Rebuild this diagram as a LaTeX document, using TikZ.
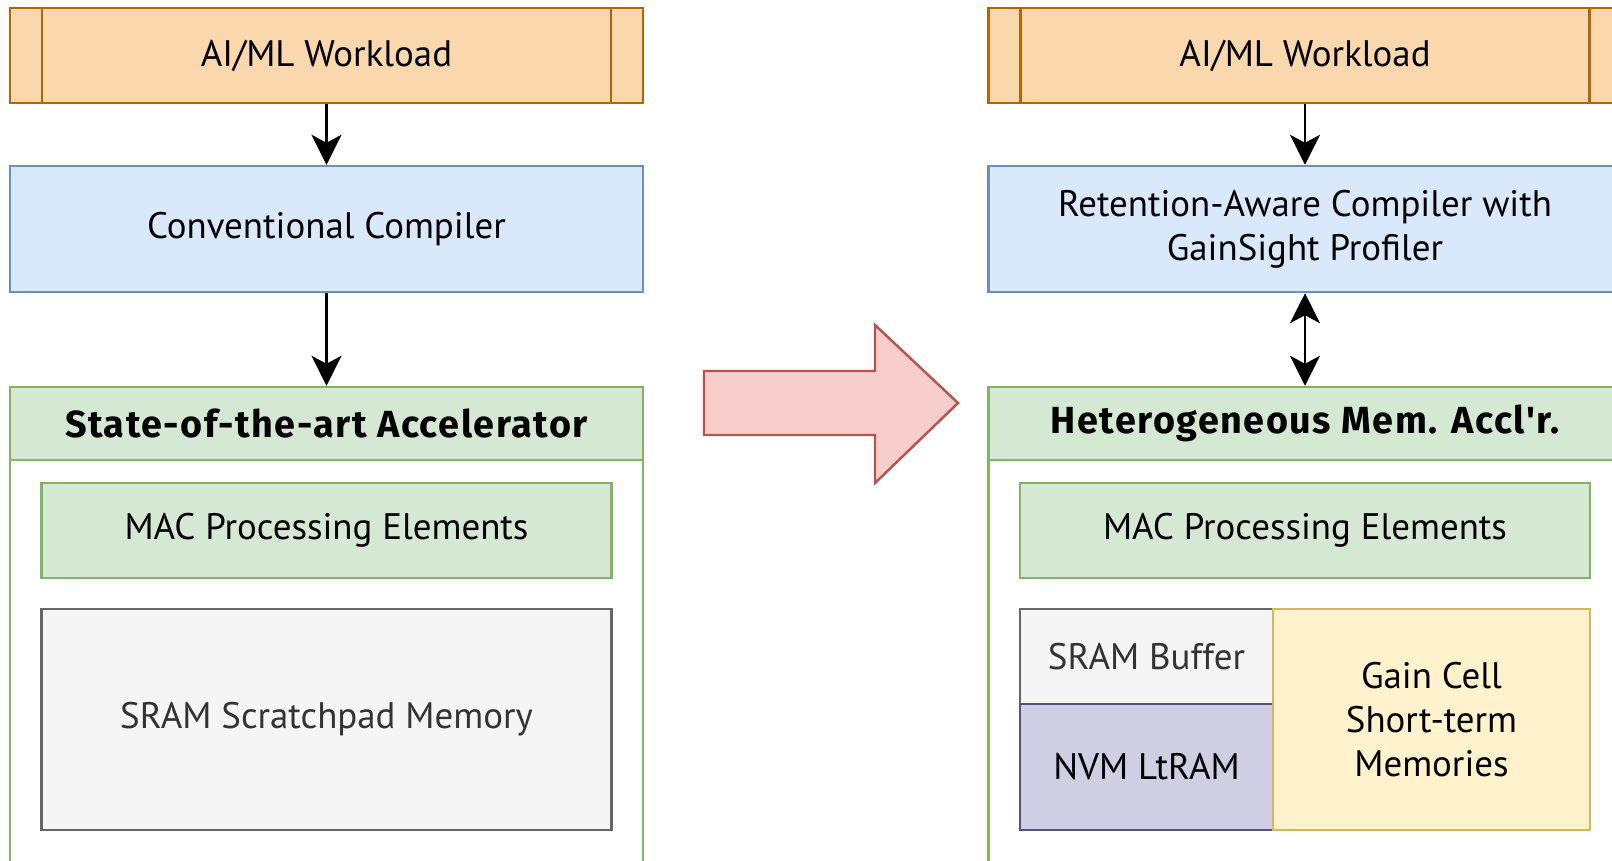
\documentclass[tikz,border=0pt]{standalone}
\usepackage{fontspec}
\setmainfont{PT Sans}
\newfontfamily\hdrfont{Fira Sans}[LetterSpace=4]
\usetikzlibrary{arrows.meta,positioning,calc}

\definecolor{wlfill}{HTML}{FAD7AC}
\definecolor{wlline}{HTML}{B46504}
\definecolor{ccfill}{HTML}{DAE8FC}
\definecolor{ccline}{HTML}{6C8EBF}
\definecolor{pefill}{HTML}{D5E8D4}
\definecolor{peline}{HTML}{82B366}
\definecolor{srfill}{HTML}{F5F5F5}
\definecolor{srline}{HTML}{666666}
\definecolor{srtext}{HTML}{333333}
\definecolor{nvfill}{HTML}{D0CEE2}
\definecolor{nvline}{HTML}{56517E}
\definecolor{gcfill}{HTML}{FFF2CC}
\definecolor{gcline}{HTML}{D6B656}
\definecolor{bigfill}{HTML}{F8CECC}
\definecolor{bigline}{HTML}{B85450}

\begin{document}
\begin{tikzpicture}[
  x=0.02cm, y=-0.02cm,
  font=\fontsize{21}{25}\selectfont,
  base/.style={draw, line width=1.4pt, align=center, inner sep=0pt},
  work/.style={base, draw=wlline, fill=wlfill, minimum width=12.66cm, minimum height=1.9cm},
  comp/.style={base, draw=ccline, fill=ccfill, minimum width=12.66cm, minimum height=2.52cm},
  accbox/.style={base, draw=peline, fill=white, minimum width=12.66cm, minimum height=9.5cm},
  hdr/.style={base, draw=peline, fill=pefill, minimum width=12.66cm, minimum height=1.46cm,
              font=\hdrfont\fontsize{21.5}{25}\selectfont\bfseries},
  pe/.style={base, draw=peline, fill=pefill, minimum width=11.4cm, minimum height=1.9cm},
  sram/.style={base, draw=srline, fill=srfill, text=srtext},
  nvm/.style={base, draw=nvline, fill=nvfill},
  gain/.style={base, draw=gcline, fill=gcfill},
  ar/.style={-{Stealth[length=6mm, width=6mm, inset=1.6mm]}, line width=1.5pt},
  ar2/.style={{Stealth[length=6mm, width=6mm, inset=1.6mm]}-{Stealth[length=6mm, width=6mm, inset=1.6mm]},
              line width=1.5pt}]

\useasboundingbox (0,0) rectangle (1612,860);
\clip (0,0) rectangle (1612,860);
\fill[white] (0,0) rectangle (1612,860);

\def\lx{326.5}   % left  column centre
\def\rx{1305}    % right column centre

% left: conventional flow
\node[work]   (wlL)   at (\lx, 55.5)  {AI/ML Workload};
\node[comp]   (ccL)   at (\lx, 229)   {Conventional Compiler};
\node[accbox] (accL)  at (\lx, 624.5) {};
\node[hdr]    (hdL)   at (\lx, 423.5) {State-of-the-art Accelerator};
\node[pe]     (macL)  at (\lx, 530.5) {MAC Processing Elements};
\node[sram, minimum width=11.4cm, minimum height=4.42cm]
              (sramL) at (\lx, 719.5) {SRAM Scratchpad Memory};

% right: retention-aware flow
\node[work]   (wlR)   at (\rx, 55.5)  {AI/ML Workload};
\node[comp]   (ccR)   at (\rx, 229)   {Retention-Aware Compiler with\\GainSight Profiler};
\node[accbox] (accR)  at (\rx, 624.5) {};
\node[hdr]    (hdR)   at (\rx, 423.5) {Heterogeneous Mem. Accl'r.};
\node[pe]     (macR)  at (\rx, 530.5) {MAC Processing Elements};
\node[sram, minimum width=5.06cm, minimum height=1.9cm]
              (bufR)  at (1146.5, 656.5) {SRAM Buffer};
\node[nvm, minimum width=5.06cm, minimum height=2.52cm]
              (nvmR)  at (1146.5, 767)   {NVM LtRAM};
\node[gain, minimum width=6.34cm, minimum height=4.42cm]
              (gainR) at (1431.5, 719.5) {Gain Cell\\Short-term\\Memories};

% side bars of the workload boxes
\foreach \w in {wlL, wlR} {
  \draw[wlline, line width=1.4pt] ($(\w.north west)+(33,0)$) -- ($(\w.south west)+(33,0)$);
  \draw[wlline, line width=1.4pt] ($(\w.north east)+(-33,0)$) -- ($(\w.south east)+(-33,0)$);
}

\draw[ar]  (wlL) -- (ccL);
\draw[ar]  (ccL) -- (hdL);
\draw[ar]  (wlR) -- (ccR);
\draw[ar2] (ccR) -- (hdR);

% big transition arrow
\draw[draw=bigline, fill=bigfill, line width=1.4pt]
  (704,371) -- (875,371) -- (875,325) -- (958,403) -- (875,483) -- (875,435) -- (704,435) -- cycle;
\end{tikzpicture}
\end{document}
